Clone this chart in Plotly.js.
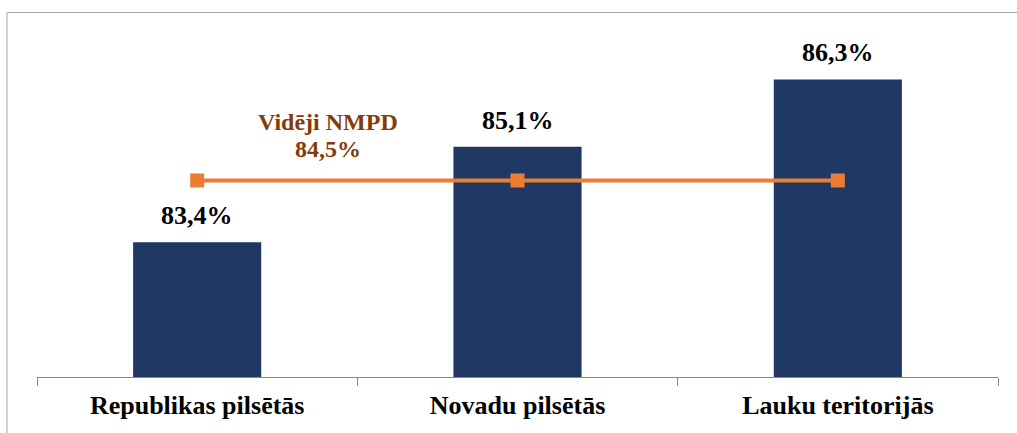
<!DOCTYPE html>
<html>
<head>
<meta charset="utf-8">
<script src="https://cdn.plot.ly/plotly-3.0.1.min.js"></script>
<style>
html,body{margin:0;padding:0;background:#fff;}
#chart{width:1017px;height:433px;}
</style>
</head>
<body>
<div id="chart"></div>
<script>
const categories = ["Republikas pilsētās", "Novadu pilsētās", "Lauku teritorijās"];
const shares = [83.4, 85.1, 86.3];
const average = [84.5, 84.5, 84.5];
const averageLabel = "Vidēji NMPD";

const fmt = v => String(v.toFixed(1)).replace('.', ',') + '%';
const serif = "Liberation Serif, Times New Roman, serif";

const bars = {
  type: 'bar',
  x: categories,
  y: shares,
  marker: {color: '#1F3864', line: {width: 0}},
  hoverinfo: 'skip',
  showlegend: false
};
const line = {
  type: 'scatter',
  mode: 'lines+markers',
  x: categories,
  y: average,
  line: {color: '#ED7D31', width: 4},
  marker: {symbol: 'square', size: 14, color: '#ED7D31'},
  hoverinfo: 'skip',
  showlegend: false
};

const annotations = categories.map((c, i) => ({
  x: c, y: shares[i], xref: 'x', yref: 'y',
  text: fmt(shares[i]),
  showarrow: false, yanchor: 'bottom', yshift: 10,
  font: {family: serif, size: 26, color: '#000', weight: 'bold'}
}));
const avgFont = {family: serif, size: 24, color: '#843C0C', weight: 'bold'};
annotations.push({
  x: 0.303, xref: 'paper', y: average[0], yref: 'y',
  text: averageLabel,
  showarrow: false, yanchor: 'bottom', yshift: 43, xanchor: 'center',
  font: avgFont
});
annotations.push({
  x: 0.303, xref: 'paper', y: average[0], yref: 'y',
  text: fmt(average[0]),
  showarrow: false, yanchor: 'bottom', yshift: 16, xanchor: 'center',
  font: avgFont
});

const layout = {
  width: 1017, height: 433,
  margin: {l: 37, r: 19, t: 12, b: 56},
  paper_bgcolor: '#fff', plot_bgcolor: '#fff',
  bargap: 0.6,
  font: {family: serif},
  xaxis: {
    type: 'category',
    showline: true, linecolor: '#868686', linewidth: 1,
    ticks: 'outside', tickson: 'boundaries', ticklen: 8, tickcolor: '#868686',
    ticklabelstandoff: 5,
    tickfont: {family: serif, size: 26, color: '#000', weight: 'bold'},
    showgrid: false, zeroline: false
  },
  yaxis: {
    range: [81, 87.5], visible: false, showgrid: false, zeroline: false
  },
  annotations: annotations,
  shapes: [{
    type: 'rect', xref: 'paper', yref: 'paper', layer: 'above',
    x0: (7 - 37) / 961, x1: (1030 - 37) / 961,
    y0: (377 - 450) / 365, y1: (377 - 12.5) / 365,
    line: {color: '#A6A6A6', width: 1}
  }]
};

Plotly.newPlot('chart', [bars, line], layout, {displayModeBar: false, staticPlot: true});
</script>
</body>
</html>
